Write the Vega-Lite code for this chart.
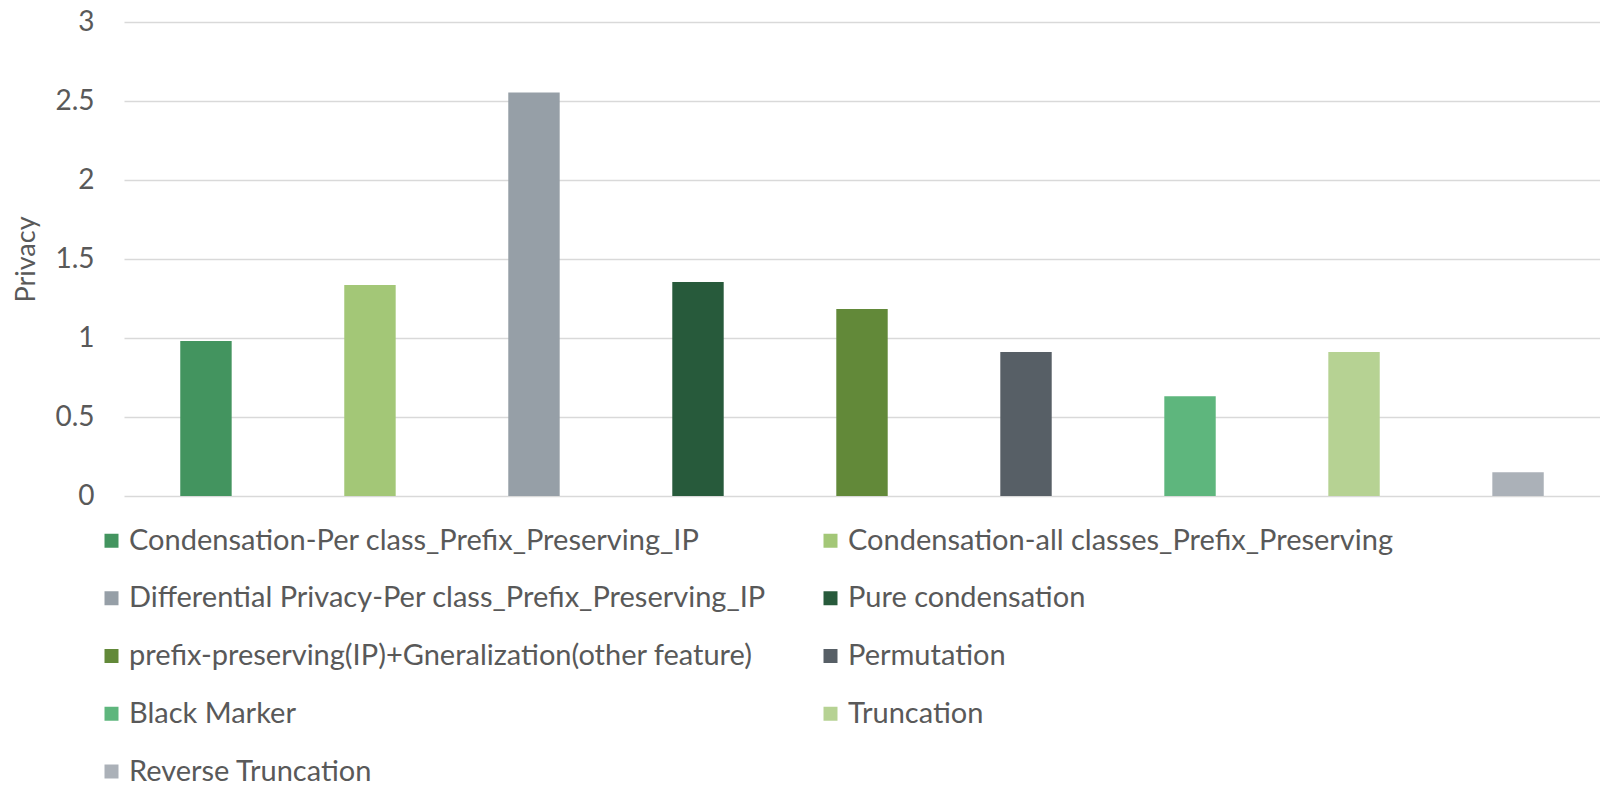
{
  "$schema": "https://vega.github.io/schema/vega-lite/v6.json",
  "autosize": "none",
  "width": 1476,
  "height": 474,
  "padding": {"left": 124, "top": 22, "right": 0, "bottom": 291},
  "background": "white",
  "config": {
    "font": "Lato",
    "view": {"stroke": null},
    "axis": {"labelFont": "Lato", "titleFont": "Lato"},
    "legend": {"labelFont": "Lato"}
  },
  "data": {
    "values": [
      {"method": "Condensation-Per class_Prefix_Preserving_IP", "privacy": 0.981},
      {"method": "Condensation-all classes_Prefix_Preserving", "privacy": 1.336},
      {"method": "Differential Privacy-Per class_Prefix_Preserving_IP", "privacy": 2.554},
      {"method": "Pure condensation", "privacy": 1.355},
      {"method": "prefix-preserving(IP)+Gneralization(other feature)", "privacy": 1.184},
      {"method": "Permutation", "privacy": 0.911},
      {"method": "Black Marker", "privacy": 0.632},
      {"method": "Truncation", "privacy": 0.911},
      {"method": "Reverse Truncation", "privacy": 0.150}
    ]
  },
  "mark": {"type": "bar"},
  "encoding": {
    "x": {
      "field": "method",
      "type": "nominal",
      "sort": null,
      "scale": {"paddingInner": 0.6865, "paddingOuter": 0.343},
      "axis": null
    },
    "y": {
      "field": "privacy",
      "type": "quantitative",
      "scale": {"domain": [0, 3], "nice": false},
      "axis": {
        "title": "Privacy",
        "titleFontSize": 27,
        "titleFontWeight": "normal",
        "titleColor": "#595959",
        "titlePadding": 14,
        "values": [0, 0.5, 1, 1.5, 2, 2.5, 3],
        "format": "~g",
        "labelFontSize": 28,
        "labelColor": "#595959",
        "labelPadding": 30,
        "ticks": false,
        "domain": false,
        "grid": true,
        "gridColor": "#d9d9d9",
        "gridWidth": 1.5
      }
    },
    "color": {
      "field": "method",
      "type": "nominal",
      "sort": null,
      "scale": {
        "domain": [
          "Condensation-Per class_Prefix_Preserving_IP",
          "Condensation-all classes_Prefix_Preserving",
          "Differential Privacy-Per class_Prefix_Preserving_IP",
          "Pure condensation",
          "prefix-preserving(IP)+Gneralization(other feature)",
          "Permutation",
          "Black Marker",
          "Truncation",
          "Reverse Truncation"
        ],
        "range": ["#43945F", "#A3C777", "#969FA7", "#275A3B", "#628939", "#575F66", "#5EB67D", "#B6D293", "#ABB1B8"]
      },
      "legend": {
        "title": null,
        "orient": "none",
        "legendX": -27,
        "legendY": 504,
        "columns": 2,
        "direction": "horizontal",
        "symbolType": "square",
        "symbolSize": 196,
        "symbolStrokeWidth": 0,
        "labelFontSize": 29,
        "labelColor": "#595959",
        "labelOffset": 3,
        "labelLimit": 900,
        "rowPadding": 27.75,
        "columnPadding": 50,
        "gridAlign": "all"
      }
    }
  }
}
